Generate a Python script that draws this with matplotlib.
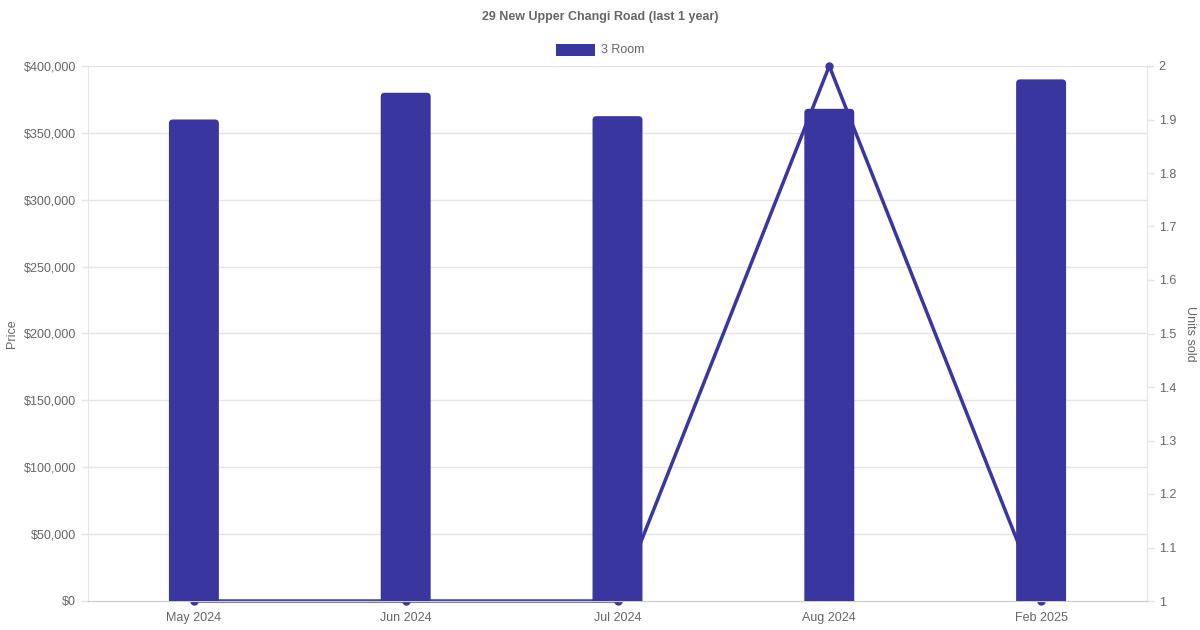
import numpy as np
import matplotlib.pyplot as plt
from matplotlib.patches import FancyBboxPatch, Rectangle
from matplotlib.ticker import FuncFormatter, MultipleLocator

months = ['May 2024', 'Jun 2024', 'Jul 2024', 'Aug 2024', 'Feb 2025']
price = [360000, 380000, 362500, 368000, 390000]
units = [1, 1, 1, 2, 1]

bar_col = '#3936a0'
txt_col = '#666666'
grid_col = '#e5e5e5'

plt.rcParams['font.family'] = ['Liberation Sans', 'DejaVu Sans']

fig = plt.figure(figsize=(12, 6.3), dpi=100)
ax = fig.add_axes([88 / 1200, 29 / 630, (1147 - 88) / 1200, (601 - 66) / 630])
ax2 = ax.twinx()

x = np.arange(len(months))
ax.set_xlim(-0.5, len(months) - 0.5)
ax.set_ylim(0, 400000)
ax2.set_ylim(1, 2)

# bars with rounded tops (bottom pushed under the axis and clipped)
px_x = 1 / 212.0
px_y = 400000 / 535.0
r = 4
bw = 50 * px_x
for xi, v in zip(x, price):
    p = FancyBboxPatch((xi - bw / 2, -r * px_y * 2), bw, v + r * px_y * 2,
                       boxstyle='round,pad=0,rounding_size=%f' % (r * px_x),
                       mutation_aspect=px_y / px_x,
                       fc=bar_col, ec='none', zorder=3)
    ax.add_patch(p)

ax.yaxis.set_major_locator(MultipleLocator(50000))
ax.yaxis.set_major_formatter(FuncFormatter(lambda v, p: '${:,.0f}'.format(v)))
ax2.yaxis.set_major_locator(MultipleLocator(0.1))
ax2.yaxis.set_major_formatter(FuncFormatter(lambda v, p: '{:g}'.format(round(v, 1))))

# grid on the back axes so the line sits over it
gy = [t for t in ax.get_yticks() if 0 < t <= 400000]
ax2.hlines(gy, -0.5, len(months) - 0.5, colors=grid_col, lw=1, transform=ax.transData, zorder=0)

ax2.plot(x, units, color=bar_col, lw=2.5, marker='o', ms=5, clip_on=False, zorder=2)

# bars above the line
ax.set_zorder(ax2.get_zorder() + 1)
ax.patch.set_visible(False)

ax.set_xticks(x)
ax.set_xticklabels(months)

for a in (ax, ax2):
    for s in a.spines.values():
        s.set_color(grid_col)
    a.spines['top'].set_visible(False)
    a.tick_params(colors=txt_col, labelsize=9, length=5, width=1)
    a.tick_params(axis='both', color=grid_col)
ax.tick_params(axis='x', length=0, pad=8)
ax2.spines['left'].set_visible(False)
ax.spines['right'].set_visible(False)
ax.spines['bottom'].set_color('#cccccc')

ax.set_ylabel('Price', color=txt_col, fontsize=9, labelpad=4)
ax2.set_ylabel('Units sold', color=txt_col, fontsize=9, rotation=270, labelpad=14)

fig.text(0.5, 1 - 17 / 630, '29 New Upper Changi Road (last 1 year)', ha='center', va='center',
         fontsize=9, fontweight='bold', color=txt_col)

# legend
fig.patches.append(Rectangle((556 / 1200, 1 - 56 / 630), 39 / 1200, 12 / 630,
                             transform=fig.transFigure, fc=bar_col, ec='none'))
fig.text(601 / 1200, 1 - 50 / 630, '3 Room', ha='left', va='center', fontsize=9, color=txt_col)

fig.savefig('out.png', dpi=100)
